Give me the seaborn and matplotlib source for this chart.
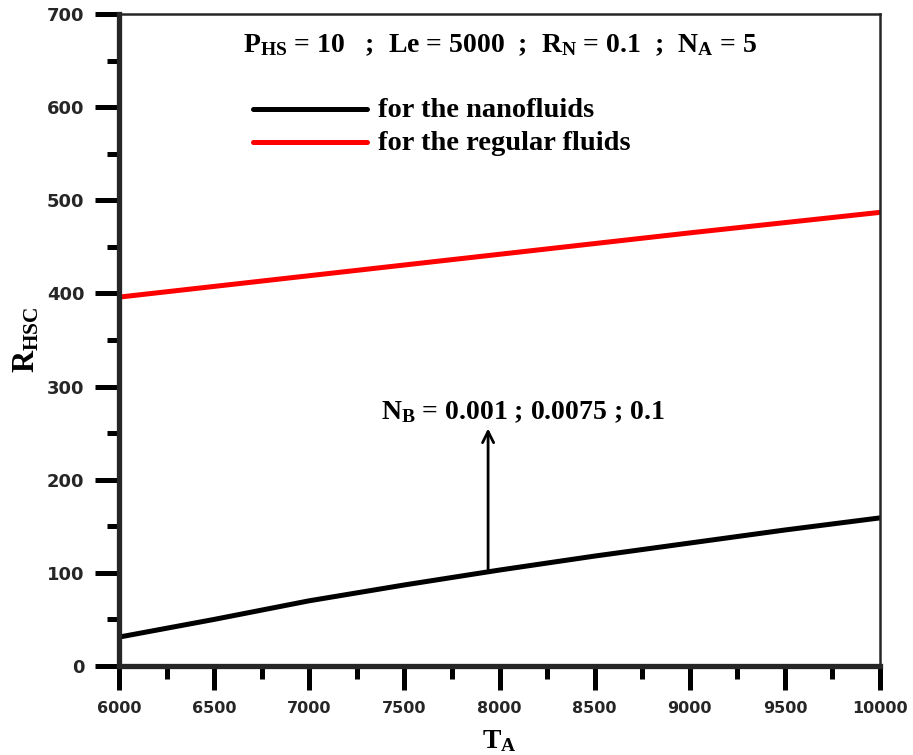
import numpy as np
import pandas as pd
import matplotlib
matplotlib.use("Agg")
import matplotlib.pyplot as plt
from matplotlib.ticker import MultipleLocator
import seaborn as sns

# values
ta = [6000, 6500, 7000, 7500, 8000, 8500, 9000, 9500, 10000]
r_nano = [31, 50, 70, 87, 103, 118, 132, 146, 159]
r_regular = [396, 407.5, 419, 430.5, 442, 453.5, 465, 476, 487]

sns.set_theme(style="ticks")
plt.rcParams["font.family"] = ["DejaVu Sans"]
plt.rcParams["mathtext.fontset"] = "custom"
plt.rcParams["mathtext.rm"] = "Liberation Serif:bold"
plt.rcParams["mathtext.it"] = "Liberation Serif:bold"
plt.rcParams["mathtext.bf"] = "Liberation Serif:bold"

df = pd.DataFrame({
    "TA": ta * 2,
    "R": r_nano + r_regular,
    "kind": ["for the nanofluids"] * len(ta) + ["for the regular fluids"] * len(ta),
})

fig = plt.figure(figsize=(9.13, 7.55), dpi=100)
ax = fig.add_axes([0.1303, 0.1179, 0.8336, 0.8636])

sns.lineplot(data=df, x="TA", y="R", hue="kind",
             palette={"for the nanofluids": "black", "for the regular fluids": "#ff0000"},
             linewidth=3.6, ax=ax, legend=False)

ax.set_xlim(6000, 10000)
ax.set_ylim(0, 700)
ax.xaxis.set_major_locator(MultipleLocator(500))
ax.xaxis.set_minor_locator(MultipleLocator(250))
ax.yaxis.set_major_locator(MultipleLocator(100))
ax.yaxis.set_minor_locator(MultipleLocator(50))

for side in ["left", "bottom"]:
    ax.spines[side].set_linewidth(3.8)
for side in ["top", "right"]:
    ax.spines[side].set_linewidth(1.8)

ax.tick_params(which="major", direction="out", length=17, width=3.6, pad=8,
               labelsize=11.5, color="black")
ax.tick_params(axis="y", which="major", labelsize=13)
ax.tick_params(which="minor", direction="out", length=9, width=3.6, color="black")
for lab in ax.get_xticklabels() + ax.get_yticklabels():
    lab.set_fontweight("bold")

serif = dict(family="Liberation Serif", weight="bold", color="black")
ax.set_xlabel("T$_{A}$", fontsize=20, labelpad=9, **serif)
ax.set_ylabel("R$_{HSC}$", fontsize=22, labelpad=4, **serif)

ax.text(0.5, 0.952, "P$_{HS}$ = 10   ;  Le = 5000  ;  R$_{N}$ = 0.1  ;  N$_{A}$ = 5",
        transform=ax.transAxes, ha="center", va="center", fontsize=20, **serif)

# legend drawn by hand to match the reference placement
ax.plot([0.176, 0.326], [0.854, 0.854], transform=ax.transAxes, color="black", lw=3.6,
        solid_capstyle="round")
ax.plot([0.176, 0.326], [0.804, 0.804], transform=ax.transAxes, color="#ff0000", lw=3.6,
        solid_capstyle="round")
ax.text(0.34, 0.852, "for the nanofluids", transform=ax.transAxes, va="center",
        fontsize=20.5, **serif)
ax.text(0.34, 0.802, "for the regular fluids", transform=ax.transAxes, va="center",
        fontsize=20.5, **serif)

ax.annotate("", xy=(7940, 258), xytext=(7940, 101),
            arrowprops=dict(arrowstyle="->", color="black", lw=2, mutation_scale=20))
ax.text(7375, 272, "N$_{B}$ = 0.001 ; 0.0075 ; 0.1", fontsize=20, va="center", **serif)

fig.savefig("out.png", dpi=100)
